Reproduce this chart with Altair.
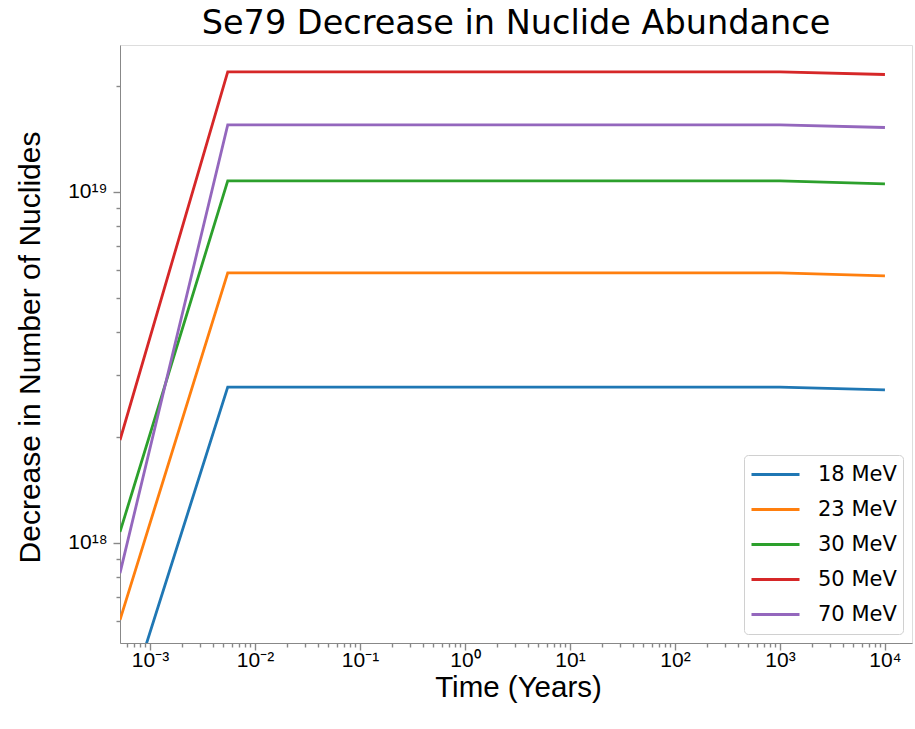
import altair as alt
import pandas as pd

series = ["18 MeV", "23 MeV", "30 MeV", "50 MeV", "70 MeV"]
colors = ["#1f77b4", "#ff7f0e", "#2ca02c", "#d62728", "#9467bd"]
times = [5.18e-4, 5.5e-3, 1.0e3, 1.0e4]
v18 = [2.99e17, 2.78e18, 2.78e18, 2.73e18]
v23 = [6.04e17, 5.88e18, 5.88e18, 5.765e18]
v30 = [1.075e18, 1.075e19, 1.075e19, 1.054e19]
v50 = [1.965e18, 2.198e19, 2.198e19, 2.159e19]
v70 = [8.21e17, 1.552e19, 1.552e19, 1.525e19]

x_domain = [5.18e-4, 1.81e4]
y_domain = [5.19e17, 2.62e19]

rows = []
for name, vals in zip(series, [v18, v23, v30, v50, v70]):
    for i, (t, v) in enumerate(zip(times, vals)):
        rows.append({"series": name, "time": t, "value": v, "order": i})
df = pd.DataFrame(rows)

x_ticks = [m * 10.0 ** k for k in range(-4, 5) for m in range(1, 10)
           if x_domain[0] <= m * 10.0 ** k <= x_domain[1]]
y_ticks = [m * 10.0 ** k for k in range(17, 20) for m in range(1, 10)
           if y_domain[0] <= m * 10.0 ** k <= y_domain[1]]

is_major = "abs(log(datum.value)/LN10 - round(log(datum.value)/LN10)) < 1e-6"
x_label = ("(" + is_major + ") ? '10' + ['⁻⁴','⁻³','⁻²','⁻¹','⁰','¹','²','³','⁴']"
           "[round(log(datum.value)/LN10)+4] : ''")
y_label = ("(" + is_major + ") ? '10' + ['¹⁷','¹⁸','¹⁹']"
           "[round(log(datum.value)/LN10)-17] : ''")
tick_size = {"condition": {"test": is_major, "value": 7}, "value": 4}

font = "DejaVu Sans"

chart = alt.Chart(df).mark_line(strokeWidth=2.8, clip=True).encode(
    x=alt.X("time:Q",
            scale=alt.Scale(type="log", domain=x_domain, nice=False),
            axis=alt.Axis(title="Time (Years)", values=x_ticks, labelExpr=x_label,
                          tickSize=tick_size, tickWidth=1.4, labelOverlap=False,
                          labelFlush=False, labelFontSize=21, labelPadding=-1, grid=False,
                          titleFontSize=29.5, titleFontWeight="normal",
                          titleX=398, titleY=44, titleBaseline="middle")),
    y=alt.Y("value:Q",
            scale=alt.Scale(type="log", domain=y_domain, nice=False),
            axis=alt.Axis(title="Decrease in Number of Nuclides", values=y_ticks,
                          labelExpr=y_label, tickSize=tick_size, tickWidth=1.4,
                          labelOverlap=False, labelFlush=False, labelFontSize=21,
                          labelPadding=6, grid=False, titleFontSize=30,
                          titleFontWeight="normal",
                          titleX=-90, titleY=302, titleAngle=270,
                          titleAlign="center", titleBaseline="middle")),
    color=alt.Color("series:N",
                    scale=alt.Scale(domain=series, range=colors),
                    legend=alt.Legend(title=None, orient="none", legendX=624, legendY=410,
                                      symbolType="stroke", symbolStrokeWidth=3,
                                      symbolSize=2304, clipHeight=27,
                                      labelFontSize=21, labelFont=font,
                                      strokeColor="#d0d0d0", fillColor="white",
                                      cornerRadius=4, padding=6, rowPadding=8,
                                      labelOffset=17)),
    order="order:Q",
).properties(
    width=792,
    height=598,
    title=alt.TitleParams("Se79 Decrease in Nuclide Abundance", fontSize=33.5,
                          fontWeight="normal", font=font, offset=4),
    autosize=alt.AutoSizeParams(type="none"),
    padding={"left": 120, "top": 45, "right": 3, "bottom": 86},
).configure_view(
    stroke="black", strokeWidth=1.5
).configure_axis(
    domainColor="black", domainWidth=1.5, tickColor="black", labelColor="black",
    titleColor="black", labelFont=font, titleFont=font
).configure(background="white")

chart.save("out.html", embed_options={"renderer": "svg", "actions": False})
